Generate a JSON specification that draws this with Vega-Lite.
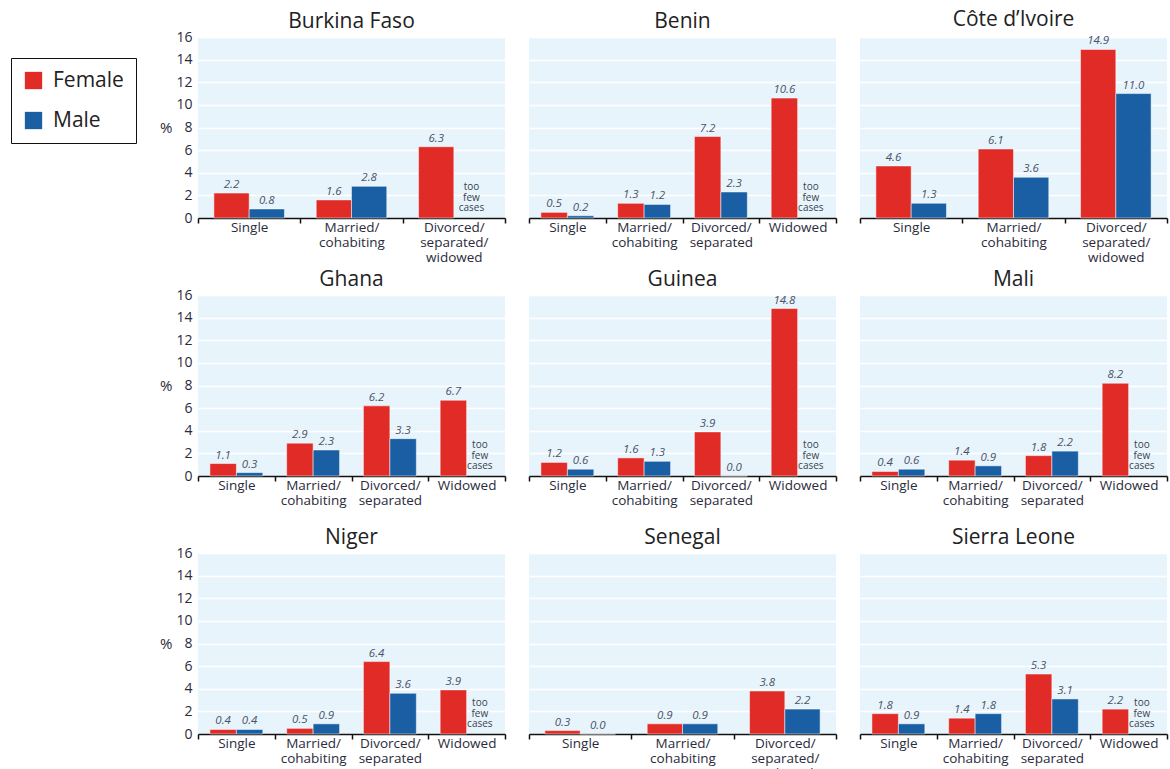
{
  "$schema": "https://vega.github.io/schema/vega-lite/v6.json",
  "background": "white",
  "padding": {"left": 10, "top": 9, "right": 5, "bottom": 0},
  "bounds": "flush",
  "data": {"values": [
    {"country": "Burkina Faso", "status": "Single", "o": 1, "sex": "Female", "value": 2.2},
    {"country": "Burkina Faso", "status": "Single", "o": 1, "sex": "Male", "value": 0.8},
    {"country": "Burkina Faso", "status": "Married/ cohabiting", "o": 2, "sex": "Female", "value": 1.6},
    {"country": "Burkina Faso", "status": "Married/ cohabiting", "o": 2, "sex": "Male", "value": 2.8},
    {"country": "Burkina Faso", "status": "Divorced/ separated/ widowed", "o": 3, "sex": "Female", "value": 6.3, "maleNote": "too few cases"},
    {"country": "Benin", "status": "Single", "o": 1, "sex": "Female", "value": 0.5},
    {"country": "Benin", "status": "Single", "o": 1, "sex": "Male", "value": 0.2},
    {"country": "Benin", "status": "Married/ cohabiting", "o": 2, "sex": "Female", "value": 1.3},
    {"country": "Benin", "status": "Married/ cohabiting", "o": 2, "sex": "Male", "value": 1.2},
    {"country": "Benin", "status": "Divorced/ separated", "o": 3, "sex": "Female", "value": 7.2},
    {"country": "Benin", "status": "Divorced/ separated", "o": 3, "sex": "Male", "value": 2.3},
    {"country": "Benin", "status": "Widowed", "o": 4, "sex": "Female", "value": 10.6, "maleNote": "too few cases"},
    {"country": "Côte d’Ivoire", "status": "Single", "o": 1, "sex": "Female", "value": 4.6},
    {"country": "Côte d’Ivoire", "status": "Single", "o": 1, "sex": "Male", "value": 1.3},
    {"country": "Côte d’Ivoire", "status": "Married/ cohabiting", "o": 2, "sex": "Female", "value": 6.1},
    {"country": "Côte d’Ivoire", "status": "Married/ cohabiting", "o": 2, "sex": "Male", "value": 3.6},
    {"country": "Côte d’Ivoire", "status": "Divorced/ separated/ widowed", "o": 3, "sex": "Female", "value": 14.9},
    {"country": "Côte d’Ivoire", "status": "Divorced/ separated/ widowed", "o": 3, "sex": "Male", "value": 11.0},
    {"country": "Ghana", "status": "Single", "o": 1, "sex": "Female", "value": 1.1},
    {"country": "Ghana", "status": "Single", "o": 1, "sex": "Male", "value": 0.3},
    {"country": "Ghana", "status": "Married/ cohabiting", "o": 2, "sex": "Female", "value": 2.9},
    {"country": "Ghana", "status": "Married/ cohabiting", "o": 2, "sex": "Male", "value": 2.3},
    {"country": "Ghana", "status": "Divorced/ separated", "o": 3, "sex": "Female", "value": 6.2},
    {"country": "Ghana", "status": "Divorced/ separated", "o": 3, "sex": "Male", "value": 3.3},
    {"country": "Ghana", "status": "Widowed", "o": 4, "sex": "Female", "value": 6.7, "maleNote": "too few cases"},
    {"country": "Guinea", "status": "Single", "o": 1, "sex": "Female", "value": 1.2},
    {"country": "Guinea", "status": "Single", "o": 1, "sex": "Male", "value": 0.6},
    {"country": "Guinea", "status": "Married/ cohabiting", "o": 2, "sex": "Female", "value": 1.6},
    {"country": "Guinea", "status": "Married/ cohabiting", "o": 2, "sex": "Male", "value": 1.3},
    {"country": "Guinea", "status": "Divorced/ separated", "o": 3, "sex": "Female", "value": 3.9},
    {"country": "Guinea", "status": "Divorced/ separated", "o": 3, "sex": "Male", "value": 0.0},
    {"country": "Guinea", "status": "Widowed", "o": 4, "sex": "Female", "value": 14.8, "maleNote": "too few cases"},
    {"country": "Mali", "status": "Single", "o": 1, "sex": "Female", "value": 0.4},
    {"country": "Mali", "status": "Single", "o": 1, "sex": "Male", "value": 0.6},
    {"country": "Mali", "status": "Married/ cohabiting", "o": 2, "sex": "Female", "value": 1.4},
    {"country": "Mali", "status": "Married/ cohabiting", "o": 2, "sex": "Male", "value": 0.9},
    {"country": "Mali", "status": "Divorced/ separated", "o": 3, "sex": "Female", "value": 1.8},
    {"country": "Mali", "status": "Divorced/ separated", "o": 3, "sex": "Male", "value": 2.2},
    {"country": "Mali", "status": "Widowed", "o": 4, "sex": "Female", "value": 8.2, "maleNote": "too few cases"},
    {"country": "Niger", "status": "Single", "o": 1, "sex": "Female", "value": 0.4},
    {"country": "Niger", "status": "Single", "o": 1, "sex": "Male", "value": 0.4},
    {"country": "Niger", "status": "Married/ cohabiting", "o": 2, "sex": "Female", "value": 0.5},
    {"country": "Niger", "status": "Married/ cohabiting", "o": 2, "sex": "Male", "value": 0.9},
    {"country": "Niger", "status": "Divorced/ separated", "o": 3, "sex": "Female", "value": 6.4},
    {"country": "Niger", "status": "Divorced/ separated", "o": 3, "sex": "Male", "value": 3.6},
    {"country": "Niger", "status": "Widowed", "o": 4, "sex": "Female", "value": 3.9, "maleNote": "too few cases"},
    {"country": "Senegal", "status": "Single", "o": 1, "sex": "Female", "value": 0.3},
    {"country": "Senegal", "status": "Single", "o": 1, "sex": "Male", "value": 0.0},
    {"country": "Senegal", "status": "Married/ cohabiting", "o": 2, "sex": "Female", "value": 0.9},
    {"country": "Senegal", "status": "Married/ cohabiting", "o": 2, "sex": "Male", "value": 0.9},
    {"country": "Senegal", "status": "Divorced/ separated/ widowed", "o": 3, "sex": "Female", "value": 3.8},
    {"country": "Senegal", "status": "Divorced/ separated/ widowed", "o": 3, "sex": "Male", "value": 2.2},
    {"country": "Sierra Leone", "status": "Single", "o": 1, "sex": "Female", "value": 1.8},
    {"country": "Sierra Leone", "status": "Single", "o": 1, "sex": "Male", "value": 0.9},
    {"country": "Sierra Leone", "status": "Married/ cohabiting", "o": 2, "sex": "Female", "value": 1.4},
    {"country": "Sierra Leone", "status": "Married/ cohabiting", "o": 2, "sex": "Male", "value": 1.8},
    {"country": "Sierra Leone", "status": "Divorced/ separated", "o": 3, "sex": "Female", "value": 5.3},
    {"country": "Sierra Leone", "status": "Divorced/ separated", "o": 3, "sex": "Male", "value": 3.1},
    {"country": "Sierra Leone", "status": "Widowed", "o": 4, "sex": "Female", "value": 2.2, "maleNote": "too few cases"}
  ]},
  "facet": {
    "field": "country",
    "type": "nominal",
    "sort": ["Burkina Faso", "Benin", "Côte d’Ivoire", "Ghana", "Guinea", "Mali", "Niger", "Senegal", "Sierra Leone"],
    "header": {"title": null, "labelFontSize": 21, "labelFont": "Open Sans", "labelColor": "#222222", "labelPadding": 5}
  },
  "columns": 3,
  "spacing": {"column": 24, "row": 77},
  "resolve": {"scale": {"x": "independent", "xOffset": "independent"}, "axis": {"x": "independent"}},
  "spec": {
    "width": 307,
    "height": 181,
    "encoding": {
      "x": {
        "field": "status", "type": "nominal", "sort": {"field": "o", "op": "min"},
        "scale": {"paddingInner": 0, "paddingOuter": 0},
        "axis": {
          "title": null, "labelAngle": 0, "labelExpr": "split(datum.label, ' ')",
          "labelFontSize": 13.5, "labelFont": "Open Sans", "labelColor": "#2b2b3b", "labelLineHeight": 15,
          "labelPadding": -3, "labelLimit": 0,
          "domainColor": "#111111", "domainWidth": 1.5, "tickColor": "#111111", "tickWidth": 1.5, "tickSize": 5,
          "tickBand": "extent", "grid": false
        }
      },
      "xOffset": {"field": "sex", "type": "nominal", "scale": {"domain": ["Female", "Male"], "paddingInner": 0, "paddingOuter": 0.45}},
      "y": {
        "field": "value", "type": "quantitative",
        "scale": {"domain": [0, 16], "nice": false},
        "axis": {
          "title": "%", "titleAngle": 0, "titleFontSize": 15, "titleFont": "Open Sans", "titleFontWeight": "normal", "titleColor": "#2b2b3b",
          "titleAlign": "right", "titleBaseline": "middle", "titleY": 90, "titleX": -26,
          "values": [0, 2, 4, 6, 8, 10, 12, 14, 16],
          "labelFontSize": 14, "labelFont": "Open Sans", "labelColor": "#2b2b3b", "labelPadding": 6,
          "domain": false, "ticks": false, "grid": true, "gridColor": "white", "gridWidth": 1.5
        }
      }
    },
    "layer": [
      {
        "mark": {"type": "bar", "stroke": "white", "strokeWidth": 0.5},
        "encoding": {
          "color": {
            "field": "sex", "type": "nominal",
            "scale": {"domain": ["Female", "Male"], "range": ["#e02b27", "#1a5fa3"]},
            "legend": {
              "title": null, "orient": "none", "legendX": -187, "legendY": 21,
              "symbolType": "square", "symbolSize": 300, "symbolStrokeWidth": 0,
              "labelFontSize": 21, "labelFont": "Open Sans", "labelColor": "#222222", "labelOffset": 9,
              "rowPadding": 18, "padding": 12,
              "strokeColor": "#111111"
            }
          }
        }
      },
      {
        "mark": {"type": "text", "baseline": "bottom", "dy": -3, "fontSize": 11.5, "fontStyle": "italic", "font": "Open Sans", "color": "#4a5268"},
        "encoding": {"text": {"field": "value", "type": "quantitative", "format": ".1f"}}
      },
      {
        "transform": [{"filter": "isValid(datum.maleNote)"}],
        "mark": {"type": "text", "baseline": "bottom", "dy": -26, "fontSize": 10, "font": "Open Sans", "color": "#3a3f4e", "lineBreak": " ", "lineHeight": 10.5},
        "encoding": {
          "xOffset": {"datum": "Male"},
          "y": {"datum": 0, "type": "quantitative"},
          "text": {"field": "maleNote", "type": "nominal"}
        }
      }
    ]
  },
  "config": {
    "view": {"fill": "#e8f4fc", "stroke": null},
    "font": "Open Sans"
  }
}
